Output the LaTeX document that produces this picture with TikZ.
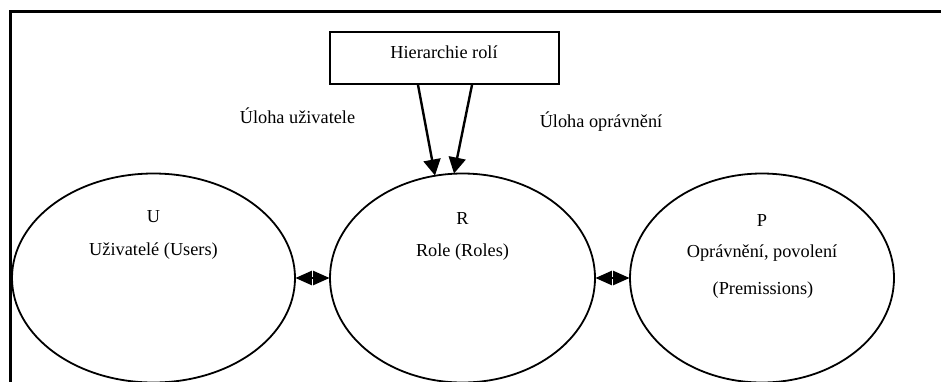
\documentclass[tikz,border=0pt]{standalone}
\usepackage{fontspec}
\setmainfont{Liberation Serif}
\usetikzlibrary{shapes.geometric,arrows.meta,calc}

\tikzset{
  set/.style={draw, ellipse, line width=1.8pt, inner sep=0pt, minimum height=209pt},
  label/.style={font=\fontsize{18.3}{22}\selectfont, inner sep=0pt, anchor=center},
  hierbox/.style={draw, rectangle, line width=1.8pt, minimum width=229pt, minimum height=52pt, inner sep=0pt},
  downarrow/.style={line width=2.4pt, -{Triangle[length=16pt,width=17pt]}},
  linkarrow/.style={line width=2.4pt, {Triangle[length=16.5pt,width=14pt]}-{Triangle[length=16.5pt,width=14pt]}, shorten <=-0.5pt, shorten >=-0.5pt}
}

\begin{document}
\begin{tikzpicture}[x=1pt, y=-1pt]
  \useasboundingbox (0,0) rectangle (941,381);
  \clip (0,0) rectangle (941,381);

  % outer frame (top and left edges)
  \draw[line width=3.5pt] (10.5,383) -- (10.5,11.5) -- (943,11.5);

  % the three sets
  \node[set, minimum width=283pt] (U) at (153.5,278) {};
  \node[set, minimum width=265pt] (R) at (462.5,278) {};
  \node[set, minimum width=264pt] (P) at (762,278) {};

  % texts inside the sets
  \node[label] (Ut) at (153.5,217) {U};
  \node[label] (Un) at (153.5,251) {Uživatelé (Users)};
  \node[label] (Rt) at (462.5,219) {R};
  \node[label] (Rn) at (462.5,252) {Role (Roles)};
  \node[label] (Pt) at (762,221) {P};
  \node[label] (Pn) at (762,253) {Oprávnění, povolení};
  \node[label] (Pe) at (763,290) {(Premissions)};

  % role hierarchy box
  \node[hierbox] (H) at (444.5,58) {};
  \node[label] (Ht) at (444,52) {Hierarchie rolí};

  % assignment labels
  \node[label] (UA) at (297.5,116) {Úloha uživatele};
  \node[label] (PA) at (601,122) {Úloha oprávnění};

  % hierarchy arrows into the roles
  \coordinate (h1) at ($(H.south)+(-26.5,0)$);
  \coordinate (h2) at ($(H.south)+(27.5,0)$);
  \coordinate (r1) at (435,175.5);
  \coordinate (r2) at (454,173.5);
  \draw[downarrow] (h1) -- (r1);
  \draw[downarrow] (h2) -- (r2);

  % links between the sets
  \draw[linkarrow] (U) -- (R);
  \draw[linkarrow] (R) -- (P);
\end{tikzpicture}
\end{document}
